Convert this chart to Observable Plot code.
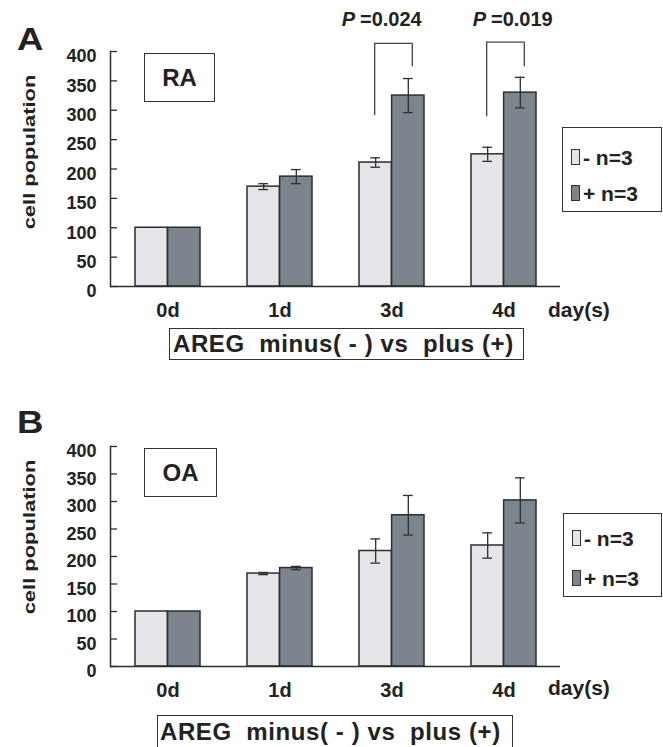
<!DOCTYPE html>
<html><head><meta charset="utf-8">
<script src="https://cdn.jsdelivr.net/npm/d3@7"></script>
<script src="https://cdn.jsdelivr.net/npm/@observablehq/plot@0.6"></script>
<style>
body{margin:0;background:#fff;font-family:"Liberation Sans",Arial,sans-serif;}
#wrap{position:relative;width:663px;height:747px;overflow:hidden;background:#fff}
#wrap svg{position:absolute;left:0;overflow:visible}
.t{position:absolute;color:#222;font-weight:bold;white-space:pre;line-height:1}
.yl{position:absolute;color:#222;font-weight:bold;white-space:pre;line-height:1;font-size:16px}
.box{position:absolute;border:1.5px solid #333;box-sizing:border-box;background:#fff;display:flex;align-items:center;color:#222;font-weight:bold;white-space:pre}
.sw{position:absolute;border:1.3px solid #333;box-sizing:border-box}
</style></head><body><div id="wrap"></div>
<script>
// ---- data ----
const days = ["0d", "1d", "3d", "4d"];
const yTicks = [0, 50, 100, 150, 200, 250, 300, 350, 400];
const legendLabels = ["- n=3", "+ n=3"];
const caption = "AREG  minus( - ) vs  plus (+)";
const xUnit = "day(s)";
const yLabel = "cell population";

// Panel A (RA)
const raMinus = [100, 170, 211, 225];
const raMinusErr = [0, 5, 8, 12];
const raPlus = [100, 187, 325, 330];
const raPlusErr = [0, 12, 29, 26];
const pDays = ["3d", "4d"];
const pValues = ["0.024", "0.019"];
const bracketTop = [414, 416];
const bracketLeftEnd = [291, 289];
const bracketRightEnd = [374, 374];

// Panel B (OA)
const oaMinus = [100, 169, 210, 220];
const oaMinusErr = [0, 2, 22, 23];
const oaPlus = [100, 179, 275, 302];
const oaPlusErr = [0, 3, 36, 41];

// ---- style ----
const LIGHT = "#e3e5e9", DARK = "#7c858d", INK = "#2e2e2e";
const W = 663, ML = 110, MR = 103;
const PI = 0.42, PO = 0.21;
const plotW = W - ML - MR;
const step = plotW / (days.length - PI + 2 * PO);
const bw = step * (1 - PI);
const wrap = document.getElementById("wrap");

function panel(o) {
  const rows = days.flatMap((d, i) => [
    {day: d, group: "-", value: o.minus[i], err: o.minusErr[i]},
    {day: d, group: "+", value: o.plus[i], err: o.plusErr[i]}
  ]);
  const mRows = rows.filter(r => r.group === "-");
  const pRows = rows.filter(r => r.group === "+");
  const cap = 10;
  const marks = [
    Plot.barY(mRows, {x: "day", y: "value", fill: LIGHT, stroke: INK, strokeWidth: 1.5, insetRight: bw / 2}),
    Plot.barY(pRows, {x: "day", y: "value", fill: DARK, stroke: INK, strokeWidth: 1.5, insetLeft: bw / 2}),
    Plot.ruleX(mRows.filter(r => r.err > 0), {x: "day", y1: r => r.value - r.err, y2: r => r.value + r.err, dx: -bw / 4, stroke: INK, strokeWidth: 1.3}),
    Plot.ruleX(pRows.filter(r => r.err > 0), {x: "day", y1: r => r.value - r.err, y2: r => r.value + r.err, dx: bw / 4, stroke: INK, strokeWidth: 1.3}),
    Plot.tickY(mRows.filter(r => r.err > 0), {x: "day", y: r => r.value - r.err, insetLeft: bw / 4 - cap / 2, insetRight: 3 * bw / 4 - cap / 2, stroke: INK, strokeWidth: 1.3}),
    Plot.tickY(mRows.filter(r => r.err > 0), {x: "day", y: r => r.value + r.err, insetLeft: bw / 4 - cap / 2, insetRight: 3 * bw / 4 - cap / 2, stroke: INK, strokeWidth: 1.3}),
    Plot.tickY(pRows.filter(r => r.err > 0), {x: "day", y: r => r.value - r.err, insetLeft: 3 * bw / 4 - cap / 2, insetRight: bw / 4 - cap / 2, stroke: INK, strokeWidth: 1.3}),
    Plot.tickY(pRows.filter(r => r.err > 0), {x: "day", y: r => r.value + r.err, insetLeft: 3 * bw / 4 - cap / 2, insetRight: bw / 4 - cap / 2, stroke: INK, strokeWidth: 1.3}),
    Plot.ruleY([0], {stroke: INK, strokeWidth: 1.5}),
    Plot.frame({anchor: "left", stroke: INK, strokeWidth: 1.5}),
    Plot.ruleY(yTicks, {insetRight: plotW - 7, stroke: INK, strokeWidth: 1.3}),
    Plot.axisY({ticks: yTicks, tickSize: 0, tickPadding: 14, dy: 5, fontSize: 18, fontWeight: "bold", tickFormat: d => String(d), label: null}),
    Plot.axisX({tickSize: 0, tickPadding: 16, fontSize: 20, fontWeight: "bold", label: null})
  ];
  if (o.brackets) {
    const br = o.brackets;
    marks.push(
      Plot.ruleX(br, {x: "day", y1: "left", y2: "top", dx: -bw / 4 - 1, stroke: "#444", strokeWidth: 1.3}),
      Plot.ruleX(br, {x: "day", y1: "right", y2: "top", dx: bw / 4 + 4, stroke: "#444", strokeWidth: 1.3}),
      Plot.tickY(br, {x: "day", y: "top", insetLeft: bw / 4 - 1, insetRight: bw / 4 - 4, stroke: "#444", strokeWidth: 1.3})
    );
    o.pvals.forEach((p, i) => {
      marks.push(
        Plot.text([p], {x: "day", y: 454, text: () => "P", fontStyle: "italic", fontWeight: "bold", fontSize: 20, textAnchor: "end", dx: o.pDx[i], fill: "#222"}),
        Plot.text([p], {x: "day", y: 454, text: d => "=" + d.p, fontWeight: "bold", fontSize: 20, textAnchor: "start", dx: o.pDx[i] + 5, fill: "#222"})
      );
    });
  }
  const svg = Plot.plot({
    width: W, height: o.height,
    marginLeft: ML, marginRight: MR, marginTop: o.marginTop, marginBottom: o.marginBottom,
    style: {fontFamily: "'Liberation Sans', Arial, sans-serif", color: "#222", background: "transparent", overflow: "visible"},
    x: {domain: days, paddingInner: PI, paddingOuter: PO},
    y: {domain: [0, 400]},
    marks
  });
  svg.style.top = o.top + "px";
  wrap.appendChild(svg);
}

function text(str, x, baseline, size, extra = "") {
  const d = document.createElement("div");
  d.className = "t";
  d.textContent = str;
  d.style.cssText = `left:${x}px;top:${baseline - 0.8465 * size}px;font-size:${size}px;${extra}`;
  wrap.appendChild(d);
}
function ylabel(cx, cy) {
  const d = document.createElement("div");
  d.className = "yl";
  d.textContent = yLabel;
  d.style.cssText = `left:${cx}px;top:${cy}px;transform:translate(-50%,-50%) rotate(-90deg) scaleX(1.37);`;
  wrap.appendChild(d);
}
function box(str, x, y, w, h, size, extra = "") {
  const d = document.createElement("div");
  d.className = "box";
  d.textContent = str;
  d.style.cssText = `left:${x}px;top:${y}px;width:${w}px;height:${h}px;font-size:${size}px;${extra}`;
  wrap.appendChild(d);
}
function legend(x, y, w, h, rowY) {
  box("", x, y, w, h, 10);
  [LIGHT, DARK].forEach((c, i) => {
    const s = document.createElement("div");
    s.className = "sw";
    s.style.cssText = `left:${x + 9}px;top:${rowY[i] - 8}px;width:9px;height:16px;background:${c}`;
    wrap.appendChild(s);
    text(legendLabels[i], x + 21, rowY[i] + 7.5, 21);
  });
}

// Panel A
panel({top: 0, height: 375, marginTop: 51, marginBottom: 89,
  minus: raMinus, minusErr: raMinusErr, plus: raPlus, plusErr: raPlusErr,
  brackets: pDays.map((d, i) => ({day: d, top: bracketTop[i], left: bracketLeftEnd[i], right: bracketRightEnd[i]})),
  pvals: pDays.map((d, i) => ({day: d, p: pValues[i]})), pDx: [-37, -18]});
text("A", 17, 50, 31, "transform:scaleX(1.18);transform-origin:left;");
ylabel(30, 152);
box("RA", 144, 53, 71, 49, 24, "justify-content:center;");
legend(562, 127, 100, 85, [157, 193]);
text(xUnit, 548, 317, 21);
box(caption, 169, 328, 355, 32, 24, "padding-left:3px;letter-spacing:0.6px;");

// Panel B
panel({top: 375, height: 372, marginTop: 71, marginBottom: 81,
  minus: oaMinus, minusErr: oaMinusErr, plus: oaPlus, plusErr: oaPlusErr});
text("B", 17, 433, 31, "transform:scaleX(1.18);transform-origin:left;");
ylabel(30, 537);
box("OA", 144, 448, 73, 49, 24, "justify-content:center;");
legend(563, 513, 99, 84, [538, 578]);
text(xUnit, 548, 695, 21);
box(caption, 157, 715, 356, 44, 24, "padding-left:2px;padding-bottom:10px;letter-spacing:0.6px;");
</script></body></html>
